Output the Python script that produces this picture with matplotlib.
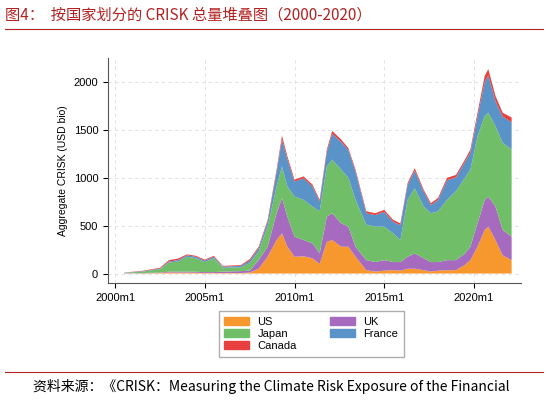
import matplotlib.pyplot as plt
import numpy as np

plt.rcParams['font.family'] = ['Liberation Sans', 'Noto Sans CJK SC', 'DejaVu Sans']

years = [2000.5, 2001.5, 2002.5, 2003.0, 2003.5, 2004.0, 2004.5, 2005.0, 2005.5, 2006.0,
         2007.0, 2007.5, 2008.0, 2008.5, 2009.0, 2009.3, 2009.6, 2010.0, 2010.5, 2011.0,
         2011.4, 2011.8, 2012.1, 2012.6, 2013.0, 2013.4, 2014.0, 2014.5, 2015.0, 2015.5,
         2015.9, 2016.3, 2016.7, 2017.2, 2017.6, 2018.0, 2018.5, 2019.0, 2019.5, 2019.8,
         2020.2, 2020.6, 2020.8, 2021.2, 2021.6, 2022.1]
us = [0, 2, 5, 10, 10, 10, 8, 5, 5, 5, 5, 10, 50, 175, 350, 420, 280, 175, 180, 160,
      100, 330, 350, 280, 280, 175, 35, 20, 30, 35, 30, 50, 50, 35, 20, 30, 35, 35, 90, 140,
      280, 455, 490, 350, 190, 140]
uk = [2, 3, 5, 10, 10, 10, 10, 10, 10, 15, 20, 20, 90, 105, 280, 370, 315, 210, 170, 155,
      110, 265, 280, 245, 210, 105, 105, 100, 110, 85, 90, 125, 160, 125, 100, 90, 105, 105, 120, 140,
      245, 315, 315, 350, 265, 245]
japan = [4, 15, 35, 95, 105, 155, 142, 105, 145, 40, 40, 80, 90, 210, 280, 330, 315, 420, 420, 385,
         440, 525, 560, 560, 510, 490, 370, 370, 350, 300, 230, 595, 680, 540, 510, 530, 630, 720, 790, 805,
         910, 875, 875, 840, 910, 910]
france = [2, 4, 7, 10, 15, 15, 15, 15, 15, 12, 15, 25, 35, 50, 150, 280, 285, 155, 225, 210,
          100, 150, 270, 290, 290, 295, 120, 120, 155, 120, 155, 155, 185, 155, 85, 120, 205, 145, 165, 180,
          205, 355, 390, 260, 275, 285]
canada = [2, 4, 8, 15, 15, 10, 10, 10, 10, 8, 8, 15, 15, 20, 25, 40, 30, 20, 20, 20,
          20, 25, 30, 25, 20, 20, 20, 20, 20, 20, 20, 20, 25, 20, 20, 20, 25, 25, 25, 30,
          40, 65, 65, 55, 40, 50]

colors = ["#f7982f", "#a66bbf", "#70bf68", "#5a93c8", "#e8403f"]

fig = plt.figure(figsize=(5.48, 4.01), dpi=100)
ax = fig.add_axes([0.197, 0.294, 0.753, 0.561])

ax.stackplot(years, us, uk, japan, france, canada, colors=colors, linewidth=0)

ax.set_xlim(1999.6, 2022.6)
ax.set_ylim(-100, 2250)
ax.set_xticks([2000, 2005, 2010, 2015, 2020])
ax.set_xticklabels(["2000m1", "2005m1", "2010m1", "2015m1", "2020m1"], fontsize=8)
ax.set_yticks([0, 500, 1000, 1500, 2000])
ax.set_yticklabels(["0", "500", "1000", "1500", "2000"], fontsize=8)
ax.set_ylabel("Aggregate CRISK (USD bio)", fontsize=7.5)
ax.grid(True, linestyle=(0, (4, 4)), color="#dddddd", linewidth=0.6)
ax.set_axisbelow(True)
for s in ["top", "right"]:
    ax.spines[s].set_visible(False)
ax.spines["left"].set_color("#555555")
ax.spines["bottom"].set_color("#555555")

handles = [plt.Rectangle((0, 0), 1, 1, color=c) for c in colors]
labels = ["US", "UK", "Japan", "France", "Canada"]
order = [0, 1, 2, 3, 4]
leg = fig.legend([handles[0], handles[2], handles[4], handles[1], handles[3]],
                 ["US", "Japan", "Canada", "UK", "France"],
                 ncol=2, loc="center", bbox_to_anchor=(0.568, 0.167), fontsize=8,
                 fancybox=False, edgecolor="#999999", handlelength=2.2, columnspacing=3,
                 labelspacing=0.2, borderpad=0.5)

fig.text(0.01, 0.962, "图4：  按国家划分的 CRISK 总量堆叠图（2000-2020）", fontsize=11,
         color="#b22222", family=["Noto Sans CJK SC", "DejaVu Sans"], va="center")
fig.add_artist(plt.Line2D([0.01, 0.99], [0.927, 0.927], color="#b22222", linewidth=0.8))
fig.add_artist(plt.Line2D([0.01, 0.99], [0.072, 0.072], color="#b22222", linewidth=0.8))
fig.text(0.06, 0.035, "资料来源：《CRISK：Measuring the Climate Risk Exposure of the Financial",
         fontsize=10, family=["Noto Sans CJK SC", "DejaVu Sans"], va="center")

fig.savefig("out.png", dpi=100)
